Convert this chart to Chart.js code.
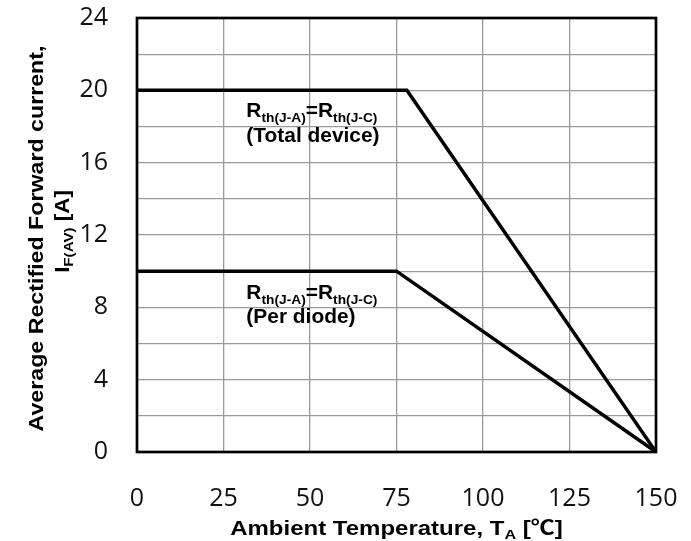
<!DOCTYPE html>
<html><head><meta charset="utf-8">
<script src="https://cdn.jsdelivr.net/npm/chart.js@4"></script>
<style>html,body{margin:0;padding:0;background:#fff;}#wrap{width:691px;height:541px;position:relative;}</style>
</head><body><div id="wrap"><canvas id="c"></canvas></div>
<script>
// ---- data ----
const xTickValues = [0, 25, 50, 75, 100, 125, 150];
const yTickLabels = [0, 4, 8, 12, 16, 20, 24];
const tempTotal = [0, 78, 150];      // Ambient temperature [°C]
const currentTotal = [20, 20, 0];    // I_F(AV) [A], total device
const tempDiode = [0, 75, 150];
const currentDiode = [10, 10, 0];    // I_F(AV) [A], per diode
const xTitleParts = [["Ambient Temperature, T", 0], ["A", 1], [" [\u2103]", 0]];
const yTitleLine1 = [["Average Rectified Forward current,", 0]];
const yTitleLine2 = [["I", 0], ["F(AV)", 1], [" [A]", 0]];
const noteTotal = [[["R", 0], ["th(J-A)", 1], ["=R", 0], ["th(J-C)", 1]], [["(Total device)", 0]]];
const noteDiode = [[["R", 0], ["th(J-A)", 1], ["=R", 0], ["th(J-C)", 1]], [["(Per diode)", 0]]];

const toPts = (xs, ys) => xs.map((x, i) => ({x: x, y: ys[i]}));
const BOLD = '"Liberation Sans", Arial, "Noto Sans CJK KR", sans-serif';

function drawRich(ctx, parts, x, y, align, size, subSize, sx) {
  ctx.save();
  const fonts = parts.map(p => 'bold ' + (p[1] ? subSize : size) + 'px ' + BOLD);
  let w = 0;
  const ws = parts.map((p, i) => { ctx.font = fonts[i]; const m = ctx.measureText(p[0]).width; w += m; return m; });
  ctx.translate(x, y);
  ctx.scale(sx, 1);
  let cx = align === 'center' ? -w / 2 : 0;
  ctx.textAlign = 'left';
  ctx.textBaseline = 'alphabetic';
  ctx.fillStyle = '#000';
  parts.forEach((p, i) => {
    ctx.font = fonts[i];
    ctx.fillText(p[0], cx, p[1] ? Math.round(size * 0.22) : 0);
    cx += ws[i];
  });
  ctx.restore();
}

const decor = {
  id: 'decor',
  beforeDatasetsDraw(chart) {
    const {ctx, chartArea: a} = chart;
    ctx.save();
    ctx.strokeStyle = '#000';
    ctx.lineWidth = 2.7;
    ctx.strokeRect(a.left, a.top, a.right - a.left, a.bottom - a.top);
    ctx.restore();
  },
  afterDraw(chart) {
    const {ctx} = chart;
    const xs = chart.scales.x, ys = chart.scales.y;
    const ax = xs.getPixelForValue(31.6);
    drawRich(ctx, noteTotal[0], ax, ys.getPixelForValue(20) + 27, 'left', 20.5, 13.5, 1.02);
    drawRich(ctx, noteTotal[1], ax, ys.getPixelForValue(20) + 52, 'left', 20.5, 13.5, 1.02);
    drawRich(ctx, noteDiode[0], ax, ys.getPixelForValue(10) + 28, 'left', 20.5, 13.5, 1.02);
    drawRich(ctx, noteDiode[1], ax, ys.getPixelForValue(10) + 52, 'left', 20.5, 13.5, 1.02);
    drawRich(ctx, xTitleParts, 396.5, 535, 'center', 20, 13.5, 1.2);
    ctx.save();
    ctx.translate(43, 238.5);
    ctx.rotate(-Math.PI / 2);
    drawRich(ctx, yTitleLine1, 0, 0, 'center', 20, 13, 1.16);
    ctx.restore();
    ctx.save();
    ctx.translate(69, 231.5);
    ctx.rotate(-Math.PI / 2);
    drawRich(ctx, yTitleLine2, 0, 0, 'center', 20, 13.5, 1.12);
    ctx.restore();
  }
};

new Chart(document.getElementById('c'), {
  type: 'scatter',
  data: {
    datasets: [
      {data: toPts(tempTotal, currentTotal), showLine: true, borderColor: '#000', borderWidth: 3.5, pointRadius: 0, tension: 0, fill: false},
      {data: toPts(tempDiode, currentDiode), showLine: true, borderColor: '#000', borderWidth: 3.5, pointRadius: 0, tension: 0, fill: false}
    ]
  },
  options: {
    responsive: true,
    maintainAspectRatio: false,
    animation: false,
    layout: {padding: {top: 18, right: 35, bottom: 0, left: 0}},
    plugins: {legend: {display: false}, tooltip: {enabled: false}},
    scales: {
      x: {
        type: 'linear', min: 0, max: 150,
        afterBuildTicks: s => { s.ticks = xTickValues.map(v => ({value: v})); },
        afterFit: s => { s.height = 89; s.paddingLeft = 0; s.paddingRight = 0; },
        grid: {color: '#9a9a9a', lineWidth: 1.3, drawTicks: false},
        border: {display: false},
        ticks: {padding: 32, color: '#111', font: {family: '"Open Sans", sans-serif', size: 25}, maxRotation: 0, autoSkip: false}
      },
      y: {
        type: 'linear', min: 0, max: 24,
        ticks: {stepSize: 2, padding: 29, color: '#111', font: {family: '"Open Sans", sans-serif', size: 25},
          callback: v => yTickLabels.includes(v) ? String(v) : ''},
        afterFit: s => { s.width = 137; s.paddingTop = 0; s.paddingBottom = 0; },
        grid: {color: '#9a9a9a', lineWidth: 1.3, drawTicks: false},
        border: {display: false}
      }
    }
  },
  plugins: [decor]
});
</script></body></html>
